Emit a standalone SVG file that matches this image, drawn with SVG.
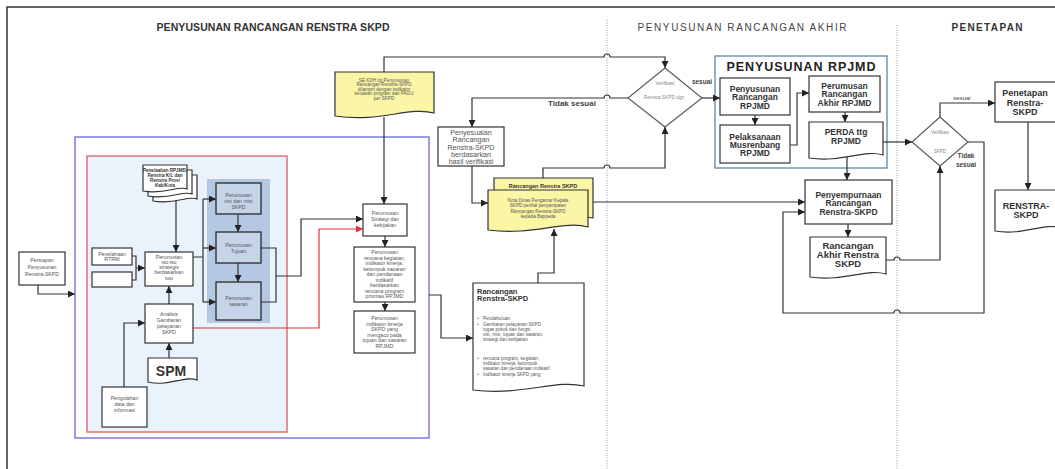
<svg xmlns="http://www.w3.org/2000/svg" width="1055" height="469" viewBox="0 0 1055 469">
<style>
text{font-family:"Liberation Sans",Arial,sans-serif;text-anchor:middle}
.s{font-size:5.2px;fill:#555}
.xs{font-size:4.6px;fill:#555}
.g8{font-size:7.2px;fill:#555}
.b{font-weight:bold;fill:#333}
.l{text-anchor:start}
.box{fill:#fff;stroke:#333;stroke-width:1.2}
.ibox{fill:#c6d4ea;stroke:#333;stroke-width:1.4}
.doc{fill:#fff;stroke:#333;stroke-width:1.2}
.ydoc{fill:#faf6a6;stroke:#333;stroke-width:1.2}
.c{fill:none;stroke:#333;stroke-width:1.2}
.cr{fill:none;stroke:#e0303a;stroke-width:1.2}
.dot{stroke:#999;stroke-width:1;stroke-dasharray:1 1.5}
</style>
<defs>
<marker id="ah" viewBox="0 0 10 10" refX="10" refY="5" markerWidth="8" markerHeight="7" markerUnits="userSpaceOnUse" orient="auto"><path d="M0,0L10,5L0,10z" fill="#222"/></marker>
<marker id="ahr" viewBox="0 0 10 10" refX="10" refY="5" markerWidth="8" markerHeight="7" markerUnits="userSpaceOnUse" orient="auto"><path d="M0,0L10,5L0,10z" fill="#e0303a"/></marker>
</defs>
<rect width="1055" height="469" fill="#fff"/>
<path d="M7,469V7H1055" fill="none" stroke="#333" stroke-width="1.5"/>
<line class="dot" x1="607" y1="20" x2="607" y2="469"/>
<line class="dot" x1="897" y1="25" x2="897" y2="469"/>
<g id="titles">
<text x="273" y="31" font-size="10.5" font-weight="bold" fill="#333" textLength="233">PENYUSUNAN RANCANGAN RENSTRA SKPD</text>
<text x="742" y="31" font-size="10" fill="#444" textLength="209">PENYUSUNAN RANCANGAN AKHIR</text>
<text x="987" y="31" font-size="10" font-weight="bold" fill="#333" textLength="71">PENETAPAN</text>
</g>
<g id="frames">
<rect x="75" y="137" width="354" height="301" fill="none" stroke="#7b7be0" stroke-width="1.5"/>
<rect x="87" y="156" width="200" height="276" fill="#eaf3fb" stroke="#e07078" stroke-width="1.5"/>
<rect x="207" y="179" width="63" height="144" fill="#b5c8e3"/>
<rect x="715" y="56" width="172" height="112" fill="#fff" stroke="#5b87b0" stroke-width="1.3"/>
<text x="801" y="71" font-size="12.5" font-weight="bold" fill="#222" textLength="149">PENYUSUNAN RPJMD</text>
</g>
<g id="connectors">
<path class="c" d="M38,285V294H75" marker-end="url(#ah)"/>
<path class="c" d="M429,295H441V338H473" marker-end="url(#ah)"/>
<path class="c" d="M132,256H136V280H132M136,268H145" marker-end="url(#ah)"/>
<path class="c" d="M176,193V252" marker-end="url(#ah)"/>
<path class="c" d="M169,304V286" marker-end="url(#ah)"/>
<path class="c" d="M169,358V343" marker-end="url(#ah)"/>
<path class="c" d="M124,387V323H145" marker-end="url(#ah)"/>
<path class="c" d="M193,257H203M203,199V302"/>
<path class="c" d="M203,199H216" marker-end="url(#ah)"/>
<path class="c" d="M203,248H216" marker-end="url(#ah)"/>
<path class="c" d="M203,302H216" marker-end="url(#ah)"/>
<path class="c" d="M238,214V232" marker-end="url(#ah)"/>
<path class="c" d="M238,263V282" marker-end="url(#ah)"/>
<path class="c" d="M261,248H276V302H261M276,276H301V219H363" marker-end="url(#ah)"/>
<path class="cr" d="M193,328H319V229H363" marker-end="url(#ahr)"/>
<path class="c" d="M384,117V204" marker-end="url(#ah)"/>
<path class="c" d="M384,72V57H604a3,3 0 0 1 6,0H665V68" marker-end="url(#ah)"/>
<path class="c" d="M385,236V247" marker-end="url(#ah)"/>
<path class="c" d="M385,302V311" marker-end="url(#ah)"/>
<path class="c" d="M538,283V273H554V229" marker-end="url(#ah)"/>
<path class="c" d="M472,166V203H488" marker-end="url(#ah)"/>
<path class="c" d="M628,98H610a3,3 0 0 0 -6,0H472V127" marker-end="url(#ah)"/>
<path class="c" d="M543,178V168H604a3,3 0 0 1 6,0H665V127" marker-end="url(#ah)"/>
<path class="c" d="M702,98H720" marker-end="url(#ah)"/>
<path class="c" d="M755,115V125" marker-end="url(#ah)"/>
<path class="c" d="M790,145H797V93H809" marker-end="url(#ah)"/>
<path class="c" d="M845,112V122" marker-end="url(#ah)"/>
<path class="c" d="M847,157V180" marker-end="url(#ah)"/>
<path class="c" d="M883,142H912" marker-end="url(#ah)"/>
<path class="c" d="M588,202H805" marker-end="url(#ah)"/>
<path class="c" d="M848,224V237" marker-end="url(#ah)"/>
<path class="c" d="M886,260H894a3,3 0 0 1 6,0H940V166" marker-end="url(#ah)"/>
<path class="c" d="M940,117V103H995" marker-end="url(#ah)"/>
<path class="c" d="M968,142H984V313H900a3,3 0 0 0 -6,0H783V212H805" marker-end="url(#ah)"/>
<path class="c" d="M1028,122V190" marker-end="url(#ah)"/>
</g>
<g id="persiapan">
<rect class="box" x="19" y="252" width="46" height="33"/>
<text class="s" font-size="6.5" x="42" y="262">Persiapan</text>
<text class="s" font-size="6.5" x="42" y="269">Penyusunan</text>
<text class="s" font-size="6.5" x="42" y="276">Renstra-SKPD</text>
</g>
<g id="penelaahan-doc">
<path class="doc" d="M153,175H197V199C188,195 176,205 153,201Z"/>
<path class="doc" d="M148,170H192V194C183,190 171,200 148,196Z"/>
<path class="doc" d="M143,165H187V189C178,185 166,195 143,191Z"/>
<text class="xs b" x="165" y="172">Penelaahan RPJMD,</text>
<text class="xs b" x="165" y="177">Renstra K/L dan</text>
<text class="xs b" x="165" y="182">Renstra Prov/</text>
<text class="xs b" x="165" y="187">Kab/Kota</text>
</g>
<g id="rtrw">
<rect class="box" x="92" y="248" width="40" height="17"/>
<text class="s" x="112" y="255.5">Penelahaan</text>
<text class="s" x="112" y="261">RTRW</text>
</g>
<g id="empty-box"><rect class="box" x="92" y="272" width="40" height="15"/></g>
<g id="isu">
<rect class="box" x="145" y="252" width="48" height="34"/>
<text class="s" x="169" y="259">Perumusan</text>
<text class="s" x="169" y="264">isu-isu</text>
<text class="s" x="169" y="269">strategis</text>
<text class="s" x="169" y="274">berdasarkan</text>
<text class="s" x="169" y="280">tusi</text>
</g>
<g id="analisis">
<rect class="box" x="145" y="304" width="48" height="39"/>
<text class="s" x="169" y="316">Analisis</text>
<text class="s" x="169" y="322">Gambaran</text>
<text class="s" x="169" y="328">pelayanan</text>
<text class="s" x="169" y="334">SKPD</text>
</g>
<g id="spm">
<path class="doc" d="M148,358H197V380C185,375 170,387 148,382Z"/>
<text x="171" y="376" font-size="14" font-weight="bold" fill="#333">SPM</text>
</g>
<g id="pengolahan">
<rect class="box" x="102" y="387" width="45" height="40"/>
<text class="s" x="124.5" y="400">Pengolahan</text>
<text class="s" x="124.5" y="406">data dan</text>
<text class="s" x="124.5" y="412">informasi</text>
</g>
<g id="visi">
<rect class="ibox" x="216" y="183" width="45" height="31"/>
<text class="s" x="238.5" y="197">Perumusan</text>
<text class="s" x="238.5" y="203">visi dan misi</text>
<text class="s" x="238.5" y="209">SKPD</text>
</g>
<g id="tujuan">
<rect class="ibox" x="216" y="232" width="45" height="31"/>
<text class="s" x="238.5" y="247">Perumusan</text>
<text class="s" x="238.5" y="253">Tujuan</text>
</g>
<g id="sasaran">
<rect class="ibox" x="216" y="282" width="45" height="38"/>
<text class="s" x="238.5" y="300">Perumusan</text>
<text class="s" x="238.5" y="306">sasaran</text>
</g>
<g id="strategi">
<rect class="box" x="363" y="204" width="44" height="32"/>
<text class="s" x="385" y="215">Perumusan</text>
<text class="s" x="385" y="221">Strategi dan</text>
<text class="s" x="385" y="227">kebijakan</text>
</g>
<g id="rencana">
<rect class="box" x="354" y="247" width="61" height="55"/>
<text class="s" x="384.5" y="254">Perumusan</text>
<text class="s" x="384.5" y="259.5">rencana kegiatan,</text>
<text class="s" x="384.5" y="265">indikator kinerja,</text>
<text class="s" x="384.5" y="270.5">kelompok sasaran</text>
<text class="s" x="384.5" y="276">dan pendanaan</text>
<text class="s" x="384.5" y="281.5">indikatif</text>
<text class="s" x="384.5" y="287">berdasarkan</text>
<text class="s" x="384.5" y="292.5">rencana program</text>
<text class="s" x="384.5" y="298">prioritas RPJMD</text>
</g>
<g id="indikator">
<rect class="box" x="354" y="311" width="61" height="42"/>
<text class="s" x="384.5" y="320">Perumusan</text>
<text class="s" x="384.5" y="325.5">indikator kinerja</text>
<text class="s" x="384.5" y="331">SKPD yang</text>
<text class="s" x="384.5" y="336.5">mengacu pada</text>
<text class="s" x="384.5" y="342">tujuan dan sasaran</text>
<text class="s" x="384.5" y="347.5">RPJMD</text>
</g>
<g id="se-kdh">
<path class="ydoc" d="M335,72H434V113C409,106 380,123 335,116Z"/>
<text class="xs" x="384" y="81.5">SE KDH ttg Penyusunan</text>
<text class="xs" x="384" y="86">Rancangan Renstra-SKPD</text>
<text class="xs" x="384" y="90.5">dilampiri dengan indikator</text>
<text class="xs" x="384" y="95">keluaran program dan PAGU</text>
<text class="xs" x="384" y="99.5">per SKPD</text>
</g>
<g id="penyesuaian">
<rect class="box" x="438" y="127" width="66" height="39"/>
<text class="g8" x="471" y="135">Penyesuaian</text>
<text class="g8" x="471" y="142.3">Rancangan</text>
<text class="g8" x="471" y="149.6">Renstra-SKPD</text>
<text class="g8" x="471" y="156.9">berdasarkan</text>
<text class="g8" x="471" y="164.2">hasil verifikasi</text>
</g>
<g id="nota-dinas">
<path class="ydoc" d="M494,178H593V218C568,212 540,226 494,220Z"/>
<text x="543" y="188" font-size="5.5" font-weight="bold" fill="#333">Rancangan Renstra SKPD</text>
<path class="ydoc" d="M488,190H588V227C563,220 533,236 488,230Z"/>
<text class="xs" x="538" y="201.5">Nota Dinas Pengantar Kepala</text>
<text class="xs" x="538" y="207">SKPD perihal penyampaian</text>
<text class="xs" x="538" y="212.5">Rancangan Renstra-SKPD</text>
<text class="xs" x="538" y="218">kepada Bappeda</text>
</g>
<g id="rancangan-renstra">
<path class="doc" d="M473,283H584V386C556,379 523,396 473,390Z"/>
<text class="b l" x="477" y="294" font-size="7.5">Rancangan</text>
<text class="b l" x="477" y="301" font-size="7.5">Renstra-SKPD</text>
<text class="xs l" x="477" y="320">•</text>
<text class="xs l" x="483" y="320">Pendahuluan</text>
<text class="xs l" x="477" y="325.5">•</text>
<text class="xs l" x="483" y="325.5">Gambaran pelayanan SKPD</text>
<text class="xs l" x="483" y="330.5">tugas pokok dan fungsi</text>
<text class="xs l" x="483" y="335.5">visi, misi, tujuan dan sasaran,</text>
<text class="xs l" x="483" y="341">strategi dan kebijakan</text>
<text class="xs l" x="477" y="359.5">•</text>
<text class="xs l" x="483" y="359.5">rencana program, kegiatan,</text>
<text class="xs l" x="483" y="364.5">indikator kinerja, kelompok</text>
<text class="xs l" x="483" y="370">sasaran dan pendanaan indikatif</text>
<text class="xs l" x="477" y="375.5">•</text>
<text class="xs l" x="483" y="375.5">Indikator kinerja SKPD yang</text>
</g>
<g id="verifikasi-1">
<path d="M665,68L702,98L665,127L628,98Z" fill="#fff" stroke="#555" stroke-width="1.1"/>
<text x="665" y="85" font-size="4.8" fill="#888">Verifikasi</text>
<text x="664" y="99" font-size="4.8" fill="#888">Renstra SKPD dgn</text>
</g>
<g id="labels">
<text x="572" y="106" font-size="8" font-weight="bold" fill="#444">Tidak sesuai</text>
<text x="702" y="84" font-size="6.5" font-weight="bold" fill="#444">sesuai</text>
<text x="962" y="100" font-size="6" fill="#444">sesuai</text>
<text x="966" y="158" font-size="6.5" font-weight="bold" fill="#444">Tidak</text>
<text x="966" y="167" font-size="6.5" font-weight="bold" fill="#444">sesuai</text>
</g>
<g id="penyusunan-rpjmd">
<rect class="box" x="720" y="78" width="70" height="37"/>
<text class="b" font-size="8.5" x="755" y="92">Penyusunan</text>
<text class="b" font-size="8.5" x="755" y="100">Rancangan</text>
<text class="b" font-size="8.5" x="755" y="109">RPJMD</text>
</g>
<g id="musrenbang">
<rect class="box" x="720" y="125" width="70" height="38"/>
<text class="b" font-size="8.5" x="755" y="140">Pelaksanaan</text>
<text class="b" font-size="8.5" x="755" y="148">Musrenbang</text>
<text class="b" font-size="8.5" x="755" y="156">RPJMD</text>
</g>
<g id="perumusan-akhir-rpjmd">
<rect class="box" x="809" y="76" width="71" height="36"/>
<text class="b" font-size="8.5" x="844.5" y="89">Perumusan</text>
<text class="b" font-size="8.5" x="844.5" y="97">Rancangan</text>
<text class="b" font-size="8.5" x="844.5" y="106">Akhir RPJMD</text>
</g>
<g id="perda">
<path class="doc" d="M809,122H883V155C864,149 842,163 809,158Z"/>
<text class="b" font-size="8.5" x="846" y="135">PERDA ttg</text>
<text class="b" font-size="8.5" x="846" y="144">RPJMD</text>
</g>
<g id="penyempurnaan">
<rect class="box" x="805" y="180" width="87" height="44"/>
<text class="b" font-size="8.5" x="848.5" y="198">Penyempurnaan</text>
<text class="b" font-size="8.5" x="848.5" y="206">Rancangan</text>
<text class="b" font-size="8.5" x="848.5" y="215">Renstra-SKPD</text>
</g>
<g id="rancangan-akhir">
<path class="doc" d="M810,237H886V274C867,268 844,282 810,277Z"/>
<text class="b" font-size="9.5" x="848" y="249">Rancangan</text>
<text class="b" font-size="9.5" x="848" y="258">Akhir Renstra</text>
<text class="b" font-size="9.5" x="848" y="267">SKPD</text>
</g>
<g id="verifikasi-2">
<path d="M940,117L968,142L940,166L912,142Z" fill="#fff" stroke="#555" stroke-width="1.1"/>
<text x="940" y="134" font-size="4.5" fill="#888">Verifikasi</text>
<text x="940" y="153" font-size="4.5" fill="#888">SKPD</text>
</g>
<g id="penetapan">
<rect class="box" x="995" y="82" width="65" height="40"/>
<text class="b" font-size="9" x="1025" y="96">Penetapan</text>
<text class="b" font-size="9" x="1025" y="106">Renstra-</text>
<text class="b" font-size="9" x="1025" y="115">SKPD</text>
</g>
<g id="renstra-skpd">
<path class="doc" d="M995,190H1062V228C1044,222 1024,236 995,231Z"/>
<text class="b" font-size="9" x="1026" y="209">RENSTRA-</text>
<text class="b" font-size="9" x="1026" y="218">SKPD</text>
</g>
</svg>
